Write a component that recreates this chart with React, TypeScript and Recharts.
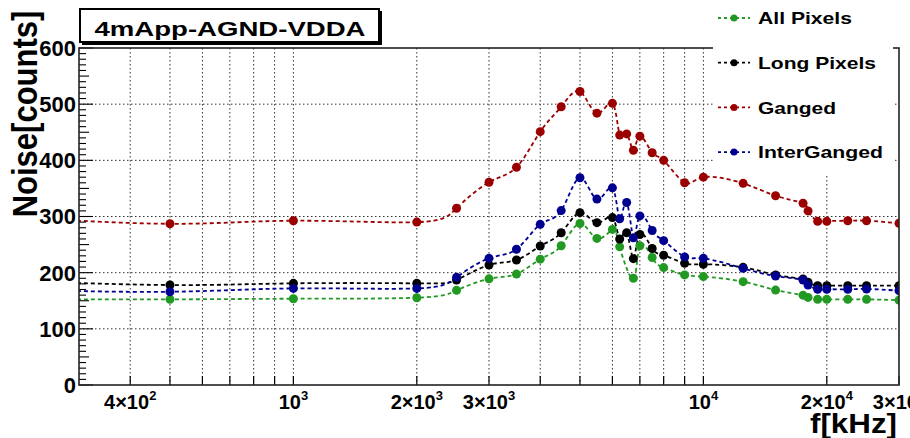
import React from 'react';
import { LineChart, Line, XAxis, YAxis, CartesianGrid } from 'recharts';

// frequency points in kHz (200 kHz sits left of the visible range)
const freqs = [200, 500, 1000, 2000, 2500, 3000, 3500, 4000, 4500, 5000, 5500, 6000, 6250, 6500, 6750, 7000, 7500, 8000, 9000, 10000, 12500, 15000, 17500, 18000, 19000, 20000, 22500, 25000, 30000];

const allPixels = [153, 152.5, 153.6, 155.4, 168.5, 189, 197.5, 224, 248, 287.5, 261, 277, 246, null, 190, 248, 227, 209, 196, 193, 184, 169, 160, 156, 152.5, 152.5, 152.5, 152.5, 151];
const longPixels = [186, 178, 181, 181, 187, 213.6, 222.5, 247.5, 271, 306.8, 289, 298, 260, 271, 225, 268, 243, 231, 216.6, 215, 209.5, 196, 188.7, 183, 176.8, 176.8, 176.8, 176.8, 176.8];
const ganged = [300, 287, 292.5, 290, 314.6, 361, 387.6, 451, 495.5, 522.5, 484, 501.5, 445, 447, 418, 443, 413.6, 400, 360, 370, 359, 337, 323.5, 310, 291.4, 291.4, 292.5, 292.5, 288];
const interGanged = [170, 166, 172, 172, 191.7, 225.5, 241.6, 286, 310.5, 369, 331, 351, 296, 325, 262, 301, 275, 257, 228, 225.5, 207.7, 194, 187, 178, 170.4, 170.4, 170.4, 171, 168];

const seriesKeys = ['all', 'long', 'ganged', 'inter'];
const seriesNames = ['All Pixels', 'Long Pixels', 'Ganged', 'InterGanged'];
const seriesColors = ['#229922', '#000000', '#9b0000', '#000090'];

// log axis ticks / grid
const xTicks = [400, 500, 600, 700, 800, 900, 1000, 2000, 3000, 4000, 5000, 6000, 7000, 8000, 9000, 10000, 20000, 30000];
const xGrid = [400, 500, 600, 700, 800, 900, 1000, 2000, 3000, 4000, 5000, 6000, 7000, 8000, 9000, 10000, 20000];
const xLabelValues = [400, 1000, 2000, 3000, 10000, 20000, 30000];
const xLabelMant = ['4\u00d7', '', '2\u00d7', '3\u00d7', '', '2\u00d7', '3\u00d7'];
const xLabelExp = ['2', '3', '3', '3', '4', '4', '4'];

const yTicks = Array.from({ length: 61 }, (_, i) => i * 10);
const yGrid = [100, 200, 300, 400, 500];

const data = freqs.map((f, i) => ({
  f,
  all: allPixels[i],
  long: longPixels[i],
  ganged: ganged[i],
  inter: interGanged[i],
}));

const FONT = '"Liberation Sans", Arial, Helvetica, sans-serif';

const XTick = (props: any) => {
  const { x, y, payload } = props;
  const idx = xLabelValues.indexOf(payload.value);
  return (
    <g>
      <line x1={x} x2={x} y1={y} y2={y - 9} stroke="#000" strokeWidth={1.2} />
      {idx >= 0 && (
        <text x={x} y={y + 24} textAnchor="middle" fontFamily={FONT} fontWeight="bold" fontSize={20} fill="#000">
          <tspan>{xLabelMant[idx] + '10'}</tspan>
          <tspan dy={-9} fontSize={13}>{xLabelExp[idx]}</tspan>
        </text>
      )}
    </g>
  );
};

const YTick = (props: any) => {
  const { x, y, payload } = props;
  const v = payload.value;
  const major = v % 100 === 0;
  const len = major ? 14 : v % 50 === 0 ? 10 : 7;
  return (
    <g>
      <line x1={x} x2={x + len} y1={y} y2={y} stroke="#000" strokeWidth={1.1} />
      {major && (
        <text x={x - 3} y={y} dy="0.36em" textAnchor="end" fontFamily={FONT} fontWeight="bold" fontSize={22} fill="#000">
          {v}
        </text>
      )}
    </g>
  );
};

const Overlay = () => (
  <svg width={910} height={438} style={{ position: 'absolute', left: 0, top: 0, pointerEvents: 'none' }}>
    {/* plot frame */}
    <rect x={79} y={48} width={820} height={337} fill="none" stroke="#222" strokeWidth={1.6} />

    {/* title box with shadow */}
    <rect x={82} y={11} width={300} height={34} fill="#000" />
    <rect x={80} y={9} width={299} height={33} fill="#fff" stroke="#000" strokeWidth={2} />
    <text x={230} y={36} textAnchor="middle" fontFamily={FONT} fontWeight="bold" fontSize={21} textLength={271} lengthAdjust="spacingAndGlyphs">
      4mApp-AGND-VDDA
    </text>

    {/* legend */}
    <rect x={713} y={0} width={180} height={175} fill="#fff" />
    {seriesNames.map((name, i) => {
      const cy = 18 + i * 44.7;
      const widths = [94, 118, 78, 125];
      return (
        <g key={name}>
          <line x1={718} x2={750} y1={cy} y2={cy} stroke={seriesColors[i]} strokeWidth={1.8} strokeDasharray="3 3" />
          <circle cx={734} cy={cy} r={3.5} fill={seriesColors[i]} />
          <text x={758} y={cy} dy="0.36em" fontFamily={FONT} fontWeight="bold" fontSize={17} textLength={widths[i]} lengthAdjust="spacingAndGlyphs">
            {name}
          </text>
        </g>
      );
    })}

    {/* axis titles */}
    <text transform="translate(37,114) scale(1.15,1) rotate(-90)" textAnchor="middle" fontFamily={FONT} fontWeight="bold" fontSize={31}>
      Noise[counts]
    </text>
    <text x={897} y={433} textAnchor="end" fontFamily={FONT} fontWeight="bold" fontSize={27} textLength={87} lengthAdjust="spacingAndGlyphs">
      f[kHz]
    </text>
  </svg>
);

export default function App() {
  return (
    <div style={{ position: 'absolute', left: 0, top: 0, width: 910, height: 438, background: '#fff' }}>
      <LineChart width={910} height={438} data={data} margin={{ top: 48, right: 11, bottom: 23, left: 19 }}>
        <CartesianGrid
          stroke="#333"
          strokeDasharray="1.5 2.5"
          strokeWidth={1}
          horizontalValues={yGrid}
          verticalValues={xGrid}
        />
        <XAxis
          dataKey="f"
          type="number"
          scale="log"
          domain={[300, 30000]}
          allowDataOverflow
          ticks={xTicks}
          interval={0}
          tickSize={0}
          tickMargin={0}
          axisLine={false}
          tickLine={false}
          tick={<XTick />}
          height={30}
        />
        <YAxis
          type="number"
          domain={[0, 600]}
          ticks={yTicks}
          interval={0}
          tickSize={0}
          tickMargin={0}
          axisLine={false}
          tickLine={false}
          tick={<YTick />}
          width={60}
        />
        {seriesKeys.map((k, i) => (
          <Line
            key={k}
            dataKey={k}
            name={seriesNames[i]}
            type="natural"
            stroke={seriesColors[i]}
            strokeWidth={1.8}
            strokeDasharray="4 3"
            connectNulls
            dot={{ r: 4.5, fill: seriesColors[i], stroke: 'none', strokeDasharray: '' }}
            isAnimationActive={false}
          />
        ))}
      </LineChart>
      <Overlay />
    </div>
  );
}
